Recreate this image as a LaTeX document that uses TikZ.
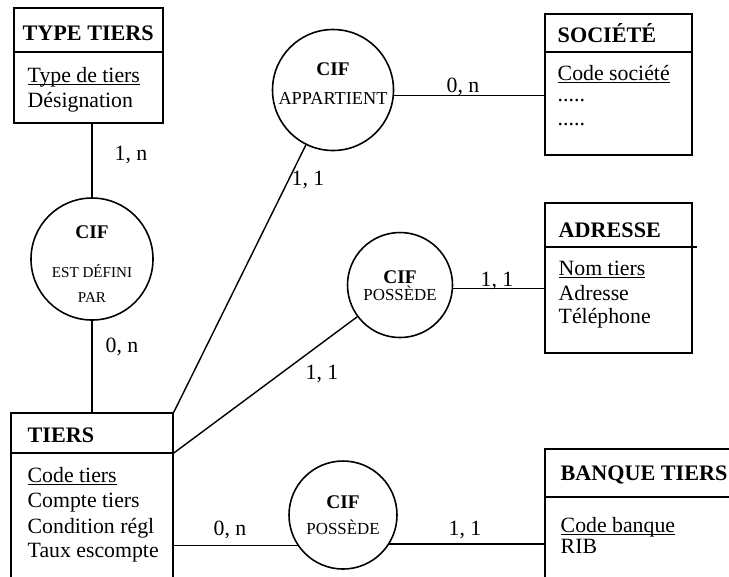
\documentclass[tikz,border=0pt]{standalone}
\usepackage{fontspec}
\setmainfont{Liberation Serif}
\usetikzlibrary{fit}
\newcommand\souligne[1]{\underline{\smash{#1}}}

\tikzset{
entity/.style={draw,line width=0.9pt,inner sep=0pt},
assoc/.style={draw,circle,line width=0.9pt,inner sep=0pt},
title/.style={font=\fontsize{12.6}{15}\selectfont\bfseries,anchor=base west,inner sep=0pt},
attr/.style={font=\fontsize{12.4}{15}\selectfont,anchor=base west,inner sep=0pt},
card/.style={font=\fontsize{12.4}{15}\selectfont,anchor=base,inner sep=0pt},
cif/.style={font=\fontsize{11}{13}\selectfont\bfseries,anchor=base,inner sep=0pt},
verb/.style={font=\fontsize{9.6}{11}\selectfont,anchor=base,inner sep=0pt}
}

\begin{document}
\begin{tikzpicture}[x=0.2mm,y=-0.2mm,line width=0.8pt]
\useasboundingbox(0,0)rectangle(729,576);
% entites
\node[entity,fit={(14,8)(163,123)}](typetiers){};
\node[entity,fit={(545,14)(692,155)}](societe){};
\node[entity,fit={(545,203)(692,353)}](adresse){};
\node[entity,fit={(11,413)(173,600)}](tiers){};
\node[entity,fit={(545,449)(760,600)}](banque){};
\draw[line width=0.9pt](typetiers.west|-0,52)--(typetiers.east|-0,52)
(societe.west|-0,52)--(societe.east|-0,52)
(adresse.west|-0,247)--(697,247)
(tiers.west|-0,453)coordinate(tiersdiv0)--(tiers.east|-0,453)coordinate(tiersdiv)
(banque.west|-0,497)--(banque.east|-0,497);
\node[title](tt0) at(22,40){TYPE TIERS};
\node[attr](tt1) at(27,82){\souligne{Type de tiers}};
\node[attr](tt2) at(27,107){Désignation};
\node[title](so0) at(557,42){SOCIÉTÉ};
\node[attr](so1) at(557,80){\souligne{Code société}};
\node[attr](so2) at(557,101){.....};
\node[attr](so3) at(557,125){.....};
\node[title](ad0) at(558,237){ADRESSE};
\node[attr](ad1) at(558,275){\souligne{Nom tiers}};
\node[attr](ad2) at(558,300){Adresse};
\node[attr](ad3) at(558,323){Téléphone};
\node[title](ti0) at(27,442){TIERS};
\node[attr](ti1) at(27,482){\souligne{Code tiers}};
\node[attr](ti2) at(27,507){Compte tiers};
\node[attr](ti3) at(27,533){Condition régl};
\node[attr](ti4) at(27,557){Taux escompte};
\node[title](bq0) at(560,480){BANQUE TIERS};
\node[attr](bq1) at(560,532){\souligne{Code banque}};
\node[attr](bq2) at(560,553){RIB};
% associations
\node[assoc,minimum size=24.4mm](defini) at(92,259){};
\node[assoc,minimum size=24.2mm](appart) at(333,90){};
\node[assoc,minimum size=21mm](possA) at(400,285){};
\node[assoc,minimum size=21.6mm](possB) at(343,515){};
\node[cif](de0) at(92,238){CIF};
\node[verb,font=\fontsize{8.6}{10}\selectfont](de1) at(92,277){EST DÉFINI};
\node[verb,font=\fontsize{8.6}{10}\selectfont](de2) at(92,302){PAR};
\node[cif](ap0) at(333,75){CIF};
\node[verb,font=\fontsize{10.4}{12}\selectfont](ap1) at(333,104){APPARTIENT};
\node[cif](pa0) at(400,283){CIF};
\node[verb](pa1) at(400,300){POSSÈDE};
\node[cif](pb0) at(343,508){CIF};
\node[verb](pb1) at(343,534){POSSÈDE};
% liens
\draw(defini.north)--(defini.north|-typetiers.south);
\draw(defini.south)--(defini.south|-tiers.north);
\draw(tiers.north east)--(appart);
\draw(tiersdiv)--(possA);
\draw(appart.-5)--(appart.-5-|societe.west);
\draw(possA.-4)--(possA.-4-|adresse.west);
\draw(possB.-146)--(possB.-146-|tiers.east);
\draw(possB.-32)--(possB.-32-|banque.west);
% cardinalites
\node[card](c1) at(131,160){1, n};
\node[card](c2) at(122,352){0, n};
\node[card](c3) at(308,185){1, 1};
\node[card](c4) at(463,92){0, n};
\node[card](c5) at(497,286){1, 1};
\node[card](c6) at(322,379){1, 1};
\node[card](c7) at(230,535){0, n};
\node[card](c8) at(465,535){1, 1};
\end{tikzpicture}
\end{document}
